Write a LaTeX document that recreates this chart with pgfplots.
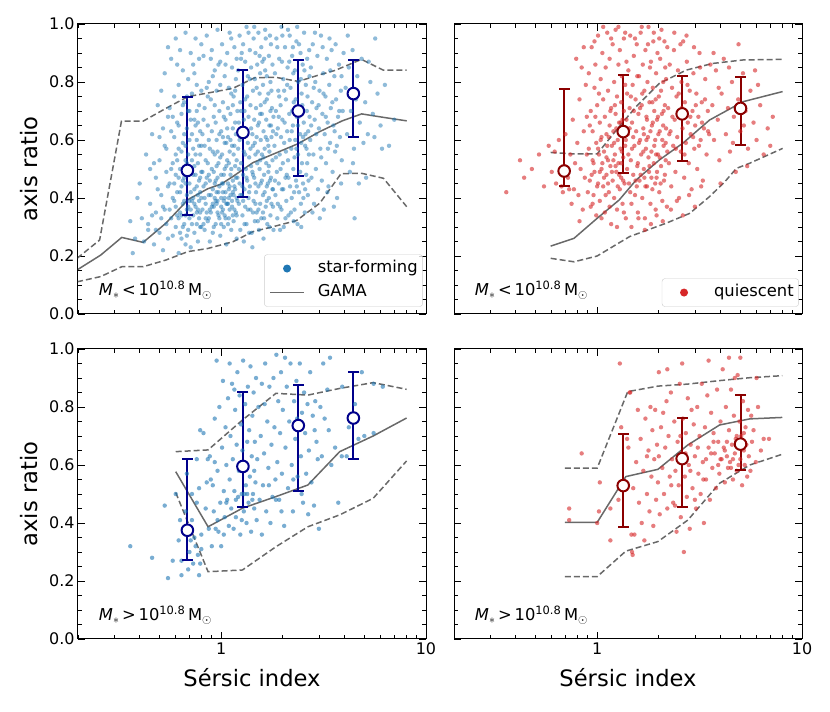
\documentclass[border=0pt]{standalone}
\usepackage{pgfplots}
\pgfplotsset{compat=1.18}
\usepackage{fontspec}
\setmainfont{DejaVu Sans}
\definecolor{tabblue}{HTML}{1F77B4}
\definecolor{tabred}{HTML}{D62728}
\definecolor{dkblue}{HTML}{00008B}
\definecolor{dkred}{HTML}{8B0000}
\definecolor{gamagray}{HTML}{696969}
\tikzset{
  mlab/.style={anchor=west, font=\fontsize{16.4}{20}\selectfont},
  gl/.style={gamagray, line width=1.5bp},
  gd/.style={gamagray, line width=1.5bp, dash pattern=on 6bp off 3bp},
  ebb/.style={dkblue, line width=2bp, mark=-, mark size=5.5bp, mark options={solid, line width=2bp, dkblue}},
  ebr/.style={dkred, line width=2bp, mark=-, mark size=5.5bp, mark options={solid, line width=2bp, dkred}},
  cb/.style={only marks, mark=*, mark size=5.8bp, mark options={fill=white, draw=dkblue, line width=2bp}},
  cr/.style={only marks, mark=*, mark size=5.8bp, mark options={fill=white, draw=dkred, line width=2bp}},
}
\pgfplotsset{
    xmin=0.2, xmax=10, ymin=0, ymax=1,
    scale only axis, width=348bp, height=290bp, anchor=south west,
    xtick={1,10}, xticklabels={1,10},
    minor xtick={0.2,0.3,0.4,0.5,0.6,0.7,0.8,0.9,2,3,4,5,6,7,8,9},
    ytick={0,0.2,0.4,0.6,0.8,1.0},
    yticklabels={0.0,0.2,0.4,0.6,0.8,1.0},
    minor ytick={0.05,0.1,0.15,0.25,0.3,0.35,0.45,0.5,0.55,0.65,0.7,0.75,0.85,0.9,0.95},
    tick align=inside, major tick length=7bp, minor tick length=4bp,
    tick style={black, line width=0.8bp},
    axis line style={black, line width=1bp},
    tick label style={font=\fontsize{16}{19}\selectfont},
    ylabel style={at={(axis description cs:-0.142,0.5)}, anchor=center, font=\fontsize{22.7}{27}\selectfont},
    xlabel style={at={(axis description cs:0.5,-0.133)}, anchor=center, font=\fontsize{22.7}{27}\selectfont},
    legend cell align=left,
    legend style={anchor=south east, at={(0.991,0.025)}, draw=black!20, rounded corners=3bp,
      fill=white, fill opacity=0.8, text opacity=1, font=\fontsize{16.4}{20}\selectfont,
      inner xsep=5bp, inner ysep=2bp, column sep=13bp, row sep=0bp,
      nodes={inner xsep=0bp, inner ysep=4bp, text height=12bp, text depth=4bp}},
}
\begin{document}
\begin{tikzpicture}
\useasboundingbox (0,0) rectangle (830bp,712bp);
% ---------------- top left
\begin{semilogxaxis}[at={(78bp,398bp)}, xticklabels={}, ylabel={axis ratio}]
\addplot[only marks, mark=*, mark size=2.2bp, color=tabblue, draw opacity=0, fill opacity=0.5,
  legend image code/.code={\path[draw=none, fill=none] (0bp,-4bp) rectangle (34bp,4bp); \fill[tabblue, fill opacity=1] (17bp,0bp) circle (4bp);}] coordinates {
(0.36,0.32)(0.38,0.26)(0.40,0.45)(0.41,0.33)(0.43,0.55)(0.44,0.29)(0.45,0.38)(0.46,0.62)(0.47,0.24)(0.48,0.47)
(0.48,0.35)(0.49,0.72)(0.50,0.28)(0.50,0.53)(0.51,0.41)(0.52,0.64)(0.52,0.22)(0.53,0.36)(0.53,0.58)(0.54,0.31)
(0.54,0.49)(0.55,0.68)(0.55,0.26)(0.44,0.31)(0.39,0.40)(0.47,0.52)(0.51,0.77)(0.42,0.25)(0.49,0.43)(0.53,0.83)
(0.46,0.34)(0.55,0.44)(0.50,0.61)(0.52,0.37)(0.37,0.21)(0.54,0.57)(0.48,0.29)(0.45,0.50)(0.51,0.33)(0.55,0.92)
(0.56,0.45)(0.56,0.71)(0.57,0.33)(0.57,0.88)(0.58,0.52)(0.58,0.27)(0.59,0.61)(0.59,0.39)(0.60,0.95)(0.60,0.48)
(0.60,0.30)(0.61,0.66)(0.61,0.42)(0.62,0.21)(0.62,0.57)(0.62,0.79)(0.63,0.35)(0.63,0.50)(0.63,0.91)(0.64,0.44)
(0.64,0.26)(0.64,0.69)(0.65,0.38)(0.65,0.59)(0.65,0.84)(0.66,0.31)(0.66,0.47)(0.66,0.73)(0.67,0.53)(0.67,0.24)
(0.67,0.97)(0.68,0.41)(0.68,0.64)(0.68,0.36)(0.69,0.81)(0.69,0.29)(0.69,0.55)(0.70,0.45)(0.70,0.70)(0.70,0.33)
(0.71,0.90)(0.71,0.50)(0.71,0.23)(0.72,0.62)(0.72,0.39)(0.72,0.76)(0.73,0.34)(0.73,0.57)(0.73,0.86)(0.74,0.43)
(0.74,0.28)(0.74,0.67)(0.75,0.48)(0.75,0.95)(0.75,0.37)(0.76,0.60)(0.76,0.31)(0.76,0.79)(0.77,0.52)(0.77,0.41)
(0.77,0.25)(0.78,0.72)(0.78,0.46)(0.78,0.88)(0.79,0.35)(0.79,0.63)(0.79,0.55)(0.80,0.40)(0.80,0.93)(0.80,0.30)
(0.57,0.63)(0.58,0.40)(0.59,0.75)(0.61,0.34)(0.62,0.47)(0.63,0.28)(0.64,0.56)(0.65,0.72)(0.66,0.39)(0.67,0.45)
(0.68,0.52)(0.69,0.37)(0.70,0.60)(0.71,0.42)(0.72,0.31)(0.73,0.48)(0.74,0.83)(0.75,0.55)(0.76,0.44)(0.77,0.66)
(0.78,0.33)(0.79,0.47)(0.80,0.58)(0.56,0.36)(0.58,0.68)(0.60,0.55)(0.61,0.86)(0.63,0.42)(0.65,0.30)(0.66,0.62)
(0.68,0.27)(0.69,0.70)(0.71,0.36)(0.72,0.53)(0.74,0.38)(0.75,0.65)(0.76,0.35)(0.78,0.58)(0.79,0.42)(0.80,0.77)
(0.57,0.50)(0.60,0.37)(0.62,0.65)(0.64,0.34)(0.67,0.58)(0.70,0.39)(0.73,0.40)(0.77,0.36)(0.79,0.30)(0.80,0.49)
(0.59,0.45)(0.62,0.33)(0.65,0.46)(0.68,0.75)(0.71,0.67)(0.74,0.51)(0.76,0.70)(0.78,0.39)(0.61,0.53)(0.67,0.34)
(0.81,0.36)(0.81,0.62)(0.82,0.89)(0.82,0.44)(0.83,0.29)(0.83,0.71)(0.84,0.53)(0.84,0.38)(0.85,0.96)(0.85,0.47)
(0.86,0.32)(0.86,0.65)(0.87,0.80)(0.87,0.41)(0.88,0.25)(0.88,0.57)(0.89,0.74)(0.89,0.35)(0.90,0.50)(0.90,0.91)
(0.91,0.43)(0.91,0.28)(0.92,0.68)(0.92,0.37)(0.93,0.84)(0.93,0.55)(0.94,0.31)(0.94,0.46)(0.95,0.77)(0.95,0.60)
(0.96,0.39)(0.96,0.98)(0.97,0.52)(0.97,0.34)(0.98,0.70)(0.98,0.44)(0.99,0.87)(0.99,0.27)(1.00,0.63)(1.00,0.40)
(1.01,0.55)(1.01,0.93)(1.02,0.36)(1.02,0.73)(1.03,0.48)(1.03,0.30)(1.04,0.82)(1.04,0.59)(1.05,0.42)(1.05,0.67)
(1.06,0.24)(1.06,0.51)(1.07,0.90)(1.07,0.38)(1.08,0.61)(1.08,0.45)(1.09,0.78)(1.09,0.33)(1.10,0.56)(1.10,0.97)
(1.11,0.41)(1.11,0.69)(1.12,0.29)(1.12,0.50)(1.13,0.85)(1.13,0.37)(1.14,0.64)(1.14,0.46)(1.15,0.75)(1.15,0.32)
(1.16,0.58)(1.16,0.92)(1.17,0.43)(1.17,0.66)(1.18,0.35)(1.18,0.81)(1.19,0.53)(1.19,0.26)(1.20,0.70)(1.20,0.47)
(0.81,0.49)(0.83,0.58)(0.84,0.33)(0.86,0.75)(0.87,0.48)(0.89,0.41)(0.90,0.63)(0.92,0.30)(0.93,0.45)(0.95,0.38)
(0.96,0.56)(0.98,0.33)(0.99,0.79)(1.01,0.35)(1.02,0.61)(1.04,0.40)(1.05,0.86)(1.07,0.53)(1.08,0.31)(1.10,0.44)
(1.11,0.60)(1.13,0.39)(1.14,0.72)(1.16,0.36)(1.17,0.51)(1.19,0.88)(0.82,0.67)(0.85,0.35)(0.88,0.46)(0.91,0.82)
(0.94,0.66)(0.97,0.42)(1.00,0.31)(1.03,0.68)(1.06,0.38)(1.09,0.52)(1.12,0.76)(1.15,0.41)(1.18,0.62)(0.84,0.45)
(0.87,0.60)(0.90,0.37)(0.93,0.72)(0.96,0.47)(0.99,0.54)(1.02,0.45)(1.05,0.33)(1.08,0.71)(1.11,0.48)(1.14,0.34)
(1.17,0.77)(1.20,0.39)(0.83,0.40)(0.86,0.52)(0.89,0.88)(0.92,0.49)(0.95,0.42)(0.98,0.62)(1.01,0.45)(1.04,0.50)
(1.07,0.64)(1.10,0.36)(1.13,0.58)(1.16,0.44)(1.19,0.40)(0.85,0.78)(0.88,0.36)(0.91,0.56)(0.94,0.39)(0.97,0.86)
(1.00,0.48)(1.03,0.39)(1.06,0.59)(1.09,0.43)(1.12,0.95)(1.15,0.55)(1.18,0.47)(0.82,0.31)(0.95,0.51)(1.08,0.38)
(0.87,0.33)(0.91,0.38)(0.96,0.35)(1.00,0.37)(1.04,0.34)(1.09,0.40)(1.14,0.42)(1.19,0.34)(0.93,0.40)(1.02,0.42)
(1.21,0.57)(1.21,0.84)(1.22,0.38)(1.22,0.66)(1.23,0.96)(1.23,0.45)(1.24,0.29)(1.24,0.73)(1.25,0.52)(1.25,0.88)
(1.26,0.41)(1.26,0.61)(1.27,0.34)(1.27,0.79)(1.28,0.48)(1.28,0.93)(1.29,0.56)(1.29,0.25)(1.30,0.70)(1.30,0.43)
(1.31,0.87)(1.31,0.37)(1.32,0.62)(1.32,0.50)(1.33,0.99)(1.33,0.31)(1.34,0.75)(1.34,0.46)(1.35,0.59)(1.35,0.82)
(1.36,0.40)(1.36,0.68)(1.37,0.28)(1.37,0.54)(1.38,0.91)(1.38,0.44)(1.39,0.72)(1.39,0.36)(1.40,0.64)(1.40,0.85)
(1.42,0.49)(1.42,0.23)(1.43,0.77)(1.43,0.58)(1.44,0.95)(1.44,0.39)(1.45,0.67)(1.45,0.47)(1.46,0.32)(1.46,0.81)
(1.47,0.55)(1.47,0.90)(1.48,0.42)(1.48,0.71)(1.49,0.61)(1.49,0.35)(1.50,0.86)(1.50,0.52)(1.52,0.44)(1.52,0.97)
(1.53,0.66)(1.53,0.29)(1.54,0.76)(1.54,0.50)(1.55,0.38)(1.55,0.83)(1.56,0.60)(1.56,0.45)(1.57,0.92)(1.57,0.33)
(1.58,0.69)(1.58,0.55)(1.60,0.41)(1.60,0.79)(1.61,0.63)(1.61,0.26)(1.62,0.88)(1.62,0.48)(1.63,0.57)(1.63,0.73)
(1.65,0.37)(1.65,0.95)(1.66,0.52)(1.66,0.67)(1.67,0.44)(1.67,0.82)(1.68,0.31)(1.68,0.60)(1.70,0.76)(1.70,0.49)
(1.71,0.89)(1.71,0.40)(1.72,0.65)(1.72,0.56)(1.74,0.34)(1.74,0.80)(1.75,0.47)(1.75,0.93)(1.76,0.61)(1.76,0.38)
(1.77,0.71)(1.78,0.53)(1.78,0.86)(1.79,0.43)(1.80,0.68)(1.80,0.29)(1.22,0.50)(1.25,0.70)(1.28,0.39)(1.31,0.55)
(1.34,0.63)(1.37,0.42)(1.40,0.51)(1.43,0.35)(1.46,0.59)(1.49,0.78)(1.52,0.36)(1.55,0.69)(1.58,0.46)(1.61,0.54)
(1.64,0.84)(1.67,0.39)(1.70,0.58)(1.73,0.46)(1.76,0.77)(1.79,0.63)(1.23,0.60)(1.27,0.44)(1.31,0.74)(1.35,0.36)
(1.39,0.57)(1.43,0.48)(1.47,0.38)(1.51,0.65)(1.55,0.53)(1.59,0.87)(1.63,0.42)(1.67,0.74)(1.71,0.51)(1.75,0.65)
(1.79,0.37)(1.24,0.41)(1.29,0.67)(1.33,0.47)(1.38,0.81)(1.42,0.62)(1.47,0.45)(1.51,0.56)(1.56,0.72)(1.60,0.35)
(1.65,0.61)(1.69,0.45)(1.74,0.70)(1.78,0.43)(1.26,0.90)(1.36,0.97)(1.45,0.99)(1.54,0.89)(1.64,0.98)(1.73,0.96)
(1.30,0.31)(1.41,0.28)(1.51,0.32)(1.62,0.33)(1.72,0.30)
(1.82,0.58)(1.83,0.83)(1.84,0.41)(1.85,0.70)(1.86,0.95)(1.87,0.49)(1.88,0.33)(1.89,0.64)(1.90,0.77)(1.91,0.45)
(1.92,0.88)(1.93,0.55)(1.94,0.37)(1.95,0.72)(1.96,0.61)(1.97,0.99)(1.98,0.43)(1.99,0.67)(2.00,0.52)(2.01,0.81)
(2.02,0.30)(2.03,0.59)(2.05,0.92)(2.06,0.47)(2.07,0.74)(2.08,0.39)(2.10,0.63)(2.11,0.85)(2.12,0.53)(2.13,0.34)
(2.15,0.69)(2.16,0.96)(2.17,0.44)(2.18,0.78)(2.20,0.57)(2.21,0.40)(2.22,0.89)(2.24,0.65)(2.25,0.50)(2.26,0.73)
(2.28,0.36)(2.29,0.84)(2.30,0.60)(2.32,0.46)(2.33,0.94)(2.34,0.68)(2.36,0.31)(2.37,0.55)(2.38,0.80)(2.40,0.42)
(2.41,0.71)(2.43,0.62)(2.44,0.90)(2.45,0.38)(2.47,0.76)(2.48,0.52)(2.50,0.86)(2.51,0.45)(2.53,0.66)(2.54,0.97)
(2.56,0.35)(2.57,0.58)(2.59,0.79)(2.60,0.48)(2.62,0.70)(2.63,0.88)(2.65,0.41)(2.66,0.63)(2.68,0.55)(2.70,0.82)
(1.83,0.46)(1.86,0.62)(1.89,0.38)(1.92,0.75)(1.95,0.50)(1.98,0.87)(2.01,0.43)(2.04,0.66)(2.07,0.56)(2.10,0.79)
(2.13,0.47)(2.16,0.60)(2.19,0.35)(2.22,0.70)(2.25,0.83)(2.28,0.54)(2.31,0.74)(2.34,0.44)(2.37,0.65)(2.40,0.93)
(2.43,0.49)(2.46,0.59)(2.49,0.72)(2.52,0.40)(2.55,0.84)(2.58,0.62)(2.61,0.57)(2.64,0.75)(2.67,0.46)(2.70,0.68)
(1.85,0.54)(1.91,0.68)(1.97,0.36)(2.03,0.77)(2.09,0.48)(2.15,0.87)(2.21,0.63)(2.27,0.42)(2.33,0.57)(2.39,0.68)
(2.45,0.81)(2.51,0.61)(2.57,0.43)(2.63,0.52)(2.69,0.91)(1.88,0.92)(1.99,0.96)(2.12,0.98)(2.24,0.92)(2.35,0.99)
(1.94,0.29)(2.06,0.33)(2.26,0.32)(2.46,0.30)
(2.72,0.60)(2.74,0.85)(2.76,0.47)(2.78,0.73)(2.80,0.93)(2.82,0.55)(2.84,0.38)(2.86,0.67)(2.88,0.80)(2.90,0.50)
(2.92,0.71)(2.95,0.89)(2.97,0.43)(3.00,0.64)(3.02,0.77)(3.05,0.57)(3.07,0.96)(3.10,0.46)(3.12,0.69)(3.15,0.83)
(3.17,0.36)(3.20,0.62)(3.23,0.75)(3.25,0.52)(3.28,0.88)(3.31,0.66)(3.34,0.44)(3.37,0.79)(3.40,0.59)(3.43,0.71)
(3.46,0.91)(3.50,0.49)(3.53,0.65)(3.57,0.82)(3.60,0.56)(3.64,0.74)(3.68,0.40)(3.72,0.68)(3.76,0.86)(3.80,0.61)
(3.84,0.77)(3.88,0.53)(3.92,0.70)(3.96,0.90)(2.75,0.65)(2.83,0.78)(2.91,0.62)(2.99,0.72)(3.08,0.54)(3.16,0.76)
(3.24,0.68)(3.32,0.57)(3.41,0.84)(3.49,0.73)(3.58,0.63)(3.67,0.58)(3.77,0.70)(3.87,0.82)(2.79,0.35)(3.03,0.33)
(3.30,0.42)(3.55,0.37)(3.85,0.45)(2.87,0.97)(3.13,0.92)(3.38,0.95)(3.62,0.93)
(4.05,0.78)(4.12,0.62)(4.20,0.85)(4.30,0.70)(4.38,0.91)(4.45,0.57)(4.55,0.74)(4.62,0.82)(4.75,0.66)(4.85,0.88)
(4.95,0.59)(5.05,0.73)(5.20,0.62)(5.35,0.80)(5.50,0.69)(5.65,0.95)(5.80,0.76)(6.00,0.65)(6.30,0.79)(6.60,0.58)
(7.00,0.67)(4.25,0.49)(4.48,0.33)(4.70,0.45)(5.10,0.47)(5.60,0.61)(6.10,0.57)(4.15,0.96)(4.40,0.52)(5.25,0.87)
};
\addlegendentry{star-forming}
\addplot[gl, mark=none, legend image code/.code={\draw[gamagray, line width=1.5bp] (0bp,0bp) -- (34bp,0bp);}] coordinates {(0.198,0.152)(0.258,0.203)(0.327,0.264)(0.416,0.247)(0.537,0.313)(0.69,0.395)(0.861,0.432)(1.0,0.448)(1.14,0.474)(1.43,0.522)(1.82,0.553)(2.37,0.587)(3.03,0.629)(3.9,0.666)(4.85,0.690)(6.2,0.678)(8.05,0.666)};
\addlegendentry{GAMA}
\addplot[gd, mark=none, forget plot] coordinates {(0.198,0.192)(0.255,0.255)(0.326,0.665)(0.416,0.665)(0.537,0.709)(0.69,0.750)(0.861,0.762)(1.14,0.778)(1.46,0.815)(1.85,0.816)(2.38,0.802)(3.03,0.825)(3.6,0.840)(4.84,0.878)(6.18,0.841)(8.05,0.841)};
\addplot[gd, mark=none, forget plot] coordinates {(0.198,0.111)(0.258,0.129)(0.327,0.163)(0.416,0.163)(0.537,0.186)(0.687,0.215)(0.861,0.226)(1.14,0.249)(1.43,0.284)(1.79,0.301)(2.33,0.322)(3.03,0.382)(3.85,0.484)(4.86,0.485)(6.2,0.468)(8.05,0.370)};
\addplot[ebb, forget plot] coordinates {(0.684,0.343)(0.684,0.749)};
\addplot[ebb, forget plot] coordinates {(1.277,0.403)(1.277,0.841)};
\addplot[ebb, forget plot] coordinates {(2.38,0.477)(2.38,0.875)};
\addplot[ebb, forget plot] coordinates {(4.42,0.611)(4.42,0.875)};
\addplot[cb, forget plot] coordinates {(0.684,0.495)(1.277,0.626)(2.38,0.700)(4.42,0.760)};
\node[mlab] at (axis description cs:0.05,0.083) {\textit{M}$_\ast$\,<\,10\textsuperscript{10.8}\,M$_\odot$};
\end{semilogxaxis}
% ---------------- top right
\begin{semilogxaxis}[at={(454bp,398bp)}, xticklabels={}, yticklabels={}]
\addplot[only marks, mark=*, mark size=2.2bp, color=tabred, draw opacity=0, fill opacity=0.6,
  legend image code/.code={\path[draw=none, fill=none] (0bp,-4bp) rectangle (34bp,4bp); \fill[tabred, fill opacity=1] (17bp,0bp) circle (4bp);}] coordinates {
(0.36,0.42)(0.42,0.53)(0.44,0.47)(0.48,0.50)(0.52,0.55)(0.55,0.44)(0.58,0.58)(0.60,0.49)(0.62,0.56)(0.63,0.45)
(0.65,0.60)(0.67,0.44)(0.69,0.51)(0.70,0.62)(0.72,0.47)(0.74,0.55)(0.75,0.38)(0.76,0.67)(0.77,0.43)(0.78,0.52)
(0.79,0.88)(0.80,0.59)(0.81,0.41)(0.82,0.74)(0.83,0.50)(0.84,0.85)(0.85,0.36)(0.86,0.63)(0.87,0.47)(0.88,0.79)
(0.89,0.55)(0.90,0.42)(0.82,0.32)(0.86,0.92)(0.89,0.68)(0.68,0.42)(0.73,0.43)
(0.91,0.57)(0.91,0.83)(0.92,0.46)(0.93,0.70)(0.93,0.37)(0.94,0.92)(0.95,0.53)(0.95,0.63)(0.96,0.41)(0.97,0.78)
(0.97,0.49)(0.98,0.86)(0.99,0.59)(0.99,0.34)(1.00,0.72)(1.01,0.45)(1.01,0.96)(1.02,0.55)(1.03,0.66)(1.03,0.39)
(1.04,0.81)(1.05,0.50)(1.05,0.61)(1.06,0.90)(1.07,0.44)(1.07,0.74)(1.08,0.56)(1.09,0.35)(1.09,0.68)(1.10,0.85)
(1.11,0.48)(1.11,0.62)(1.12,0.97)(1.13,0.53)(1.13,0.77)(1.14,0.42)(1.15,0.65)(1.15,0.88)(1.16,0.51)(1.17,0.31)
(1.17,0.71)(1.18,0.58)(1.19,0.93)(1.19,0.46)(1.20,0.63)(1.21,0.80)(1.21,0.40)(1.22,0.55)(1.23,0.69)(1.23,0.98)
(1.24,0.49)(1.25,0.75)(1.25,0.36)(1.26,0.60)(1.27,0.86)(1.27,0.52)(1.28,0.66)(1.29,0.43)(1.29,0.91)(1.30,0.57)
(1.31,0.73)(1.31,0.47)(1.32,0.82)(1.33,0.38)(1.33,0.62)(1.34,0.54)(1.35,0.95)(1.35,0.70)(1.36,0.45)(1.37,0.79)
(1.37,0.58)(1.38,0.33)(1.39,0.67)(1.39,0.87)(1.40,0.50)(0.92,0.65)(0.96,0.52)(1.00,0.44)(1.04,0.60)(1.08,0.47)
(1.12,0.58)(1.16,0.70)(1.20,0.53)(1.24,0.64)(1.28,0.48)(1.32,0.56)(1.36,0.64)(1.40,0.76)(0.94,0.48)(0.98,0.68)
(1.02,0.76)(1.06,0.52)(1.10,0.41)(1.14,0.61)(1.18,0.49)(1.22,0.72)(1.26,0.44)(1.30,0.66)(1.34,0.46)(1.38,0.60)
(0.95,0.38)(1.05,0.33)(1.15,0.37)(1.25,0.30)(1.35,0.35)(0.97,0.94)(1.07,0.99)(1.17,0.95)(1.27,0.99)(1.37,0.97)
(1.01,0.57)(1.11,0.54)(1.21,0.59)(1.31,0.52)(1.03,0.49)(1.13,0.45)(1.23,0.51)(1.33,0.67)
(1.41,0.62)(1.42,0.84)(1.43,0.45)(1.44,0.71)(1.45,0.96)(1.46,0.53)(1.47,0.38)(1.48,0.66)(1.49,0.79)(1.50,0.48)
(1.51,0.89)(1.52,0.58)(1.53,0.41)(1.54,0.74)(1.55,0.63)(1.56,0.93)(1.57,0.51)(1.58,0.35)(1.59,0.69)(1.60,0.82)
(1.61,0.46)(1.62,0.60)(1.63,0.97)(1.64,0.55)(1.65,0.72)(1.66,0.40)(1.67,0.86)(1.68,0.64)(1.69,0.50)(1.70,0.77)
(1.71,0.33)(1.72,0.91)(1.73,0.57)(1.74,0.68)(1.75,0.44)(1.76,0.80)(1.77,0.61)(1.78,0.99)(1.79,0.49)(1.80,0.73)
(1.82,0.38)(1.83,0.87)(1.84,0.56)(1.85,0.65)(1.86,0.43)(1.87,0.78)(1.88,0.94)(1.89,0.52)(1.90,0.70)(1.92,0.60)
(1.93,0.36)(1.94,0.83)(1.95,0.47)(1.96,0.67)(1.97,0.90)(1.98,0.55)(2.00,0.75)(2.01,0.42)(2.02,0.63)(2.03,0.88)
(2.05,0.51)(2.06,0.98)(2.07,0.69)(2.08,0.39)(2.10,0.80)(2.11,0.58)(2.12,0.46)(2.14,0.72)(2.15,0.85)(2.16,0.53)
(2.17,0.64)(2.19,0.37)(2.20,0.92)(1.42,0.55)(1.45,0.42)(1.48,0.57)(1.51,0.70)(1.54,0.46)(1.57,0.82)(1.60,0.59)
(1.63,0.48)(1.66,0.76)(1.69,0.62)(1.72,0.44)(1.75,0.67)(1.78,0.54)(1.81,0.85)(1.84,0.47)(1.87,0.66)(1.90,0.58)
(1.93,0.74)(1.96,0.49)(1.99,0.62)(2.02,0.54)(2.05,0.77)(2.08,0.60)(2.11,0.70)(2.14,0.48)(2.17,0.81)(2.20,0.56)
(1.44,0.64)(1.50,0.61)(1.56,0.44)(1.62,0.71)(1.68,0.56)(1.74,0.60)(1.80,0.51)(1.86,0.73)(1.92,0.45)(1.98,0.68)
(2.04,0.45)(2.10,0.65)(2.16,0.59)(1.47,0.30)(1.59,0.33)(1.71,0.29)(1.83,0.31)(1.95,0.34)(2.09,0.32)(1.53,0.95)
(1.65,0.99)(1.77,0.93)(1.89,0.97)(2.01,0.95)(2.13,0.94)(1.46,0.75)(1.58,0.52)(1.70,0.47)(1.82,0.63)(1.94,0.55)
(2.22,0.71)(2.24,0.52)(2.26,0.86)(2.28,0.63)(2.30,0.44)(2.32,0.78)(2.35,0.58)(2.37,0.91)(2.39,0.67)(2.41,0.49)
(2.44,0.75)(2.46,0.61)(2.48,0.84)(2.51,0.40)(2.53,0.69)(2.56,0.56)(2.58,0.80)(2.61,0.64)(2.63,0.94)(2.66,0.47)
(2.68,0.73)(2.71,0.59)(2.74,0.87)(2.77,0.66)(2.80,0.52)(2.83,0.77)(2.86,0.62)(2.89,0.43)(2.92,0.70)(2.95,0.83)
(2.98,0.57)(3.01,0.65)(3.05,0.76)(3.08,0.50)(3.12,0.68)(3.16,0.90)(3.20,0.60)(3.24,0.73)(3.28,0.46)(3.32,0.64)
(3.37,0.81)(3.42,0.55)(3.47,0.70)(3.52,0.62)(3.57,0.86)(2.25,0.62)(2.33,0.68)(2.42,0.57)(2.50,0.76)(2.59,0.71)
(2.67,0.55)(2.76,0.79)(2.85,0.68)(2.94,0.61)(3.03,0.72)(3.14,0.58)(3.25,0.66)(3.36,0.74)(3.48,0.63)(2.29,0.36)
(2.45,0.39)(2.62,0.34)(2.81,0.41)(3.00,0.37)(3.22,0.44)(2.38,0.97)(2.55,0.93)(2.73,0.96)(2.97,0.92)(3.18,0.85)
(3.65,0.72)(3.72,0.60)(3.80,0.84)(3.88,0.67)(3.95,0.53)(4.05,0.76)(4.15,0.88)(4.25,0.62)(4.35,0.71)(4.45,0.56)
(4.55,0.80)(4.65,0.68)(4.75,0.49)(4.88,0.74)(5.00,0.63)(5.15,0.83)(5.30,0.70)(5.45,0.57)(5.60,0.77)(5.80,0.66)
(6.00,0.60)(6.25,0.72)(6.50,0.55)(6.80,0.64)(7.20,0.68)(3.70,0.90)(4.00,0.45)(4.40,0.85)(4.90,0.93)(5.40,0.51)
(6.10,0.79)(3.92,0.78)(4.60,0.59)(5.20,0.65)(5.90,0.84)(7.00,0.58)
};
\addlegendentry{quiescent}
\addplot[gl, mark=none, forget plot] coordinates {(0.593,0.234)(0.771,0.261)(1.0,0.330)(1.28,0.393)(1.55,0.462)(2.01,0.531)(2.62,0.589)(3.54,0.669)(5.15,0.732)(8.04,0.767)};
\addplot[gd, mark=none, forget plot] coordinates {(0.593,0.557)(0.771,0.552)(1.0,0.552)(1.28,0.646)(1.55,0.715)(2.01,0.795)(2.72,0.841)(3.67,0.864)(5.15,0.876)(8.04,0.878)};
\addplot[gd, mark=none, forget plot] coordinates {(0.593,0.192)(0.771,0.180)(1.0,0.200)(1.44,0.267)(2.17,0.313)(2.83,0.347)(3.54,0.405)(4.2,0.456)(4.78,0.502)(5.56,0.520)(8.04,0.571)};
\addplot[ebr, forget plot] coordinates {(0.69,0.443)(0.69,0.776)};
\addplot[ebr, forget plot] coordinates {(1.34,0.485)(1.34,0.824)};
\addplot[ebr, forget plot] coordinates {(2.60,0.526)(2.60,0.821)};
\addplot[ebr, forget plot] coordinates {(5.01,0.583)(5.01,0.818)};
\addplot[cr, forget plot] coordinates {(0.69,0.493)(1.34,0.629)(2.60,0.690)(5.01,0.709)};
\node[mlab] at (axis description cs:0.05,0.083) {\textit{M}$_\ast$\,<\,10\textsuperscript{10.8}\,M$_\odot$};
\end{semilogxaxis}
% ---------------- bottom left
\begin{semilogxaxis}[at={(78bp,73bp)}, ylabel={axis ratio}, xlabel={Sérsic index}]
\addplot[only marks, mark=*, mark size=2.2bp, color=tabblue, draw opacity=0, fill opacity=0.6, forget plot] coordinates {
(0.36,0.32)(0.46,0.28)(0.53,0.46)(0.55,0.21)(0.58,0.27)(0.60,0.50)(0.62,0.34)(0.64,0.22)(0.64,0.27)(0.66,0.38)
(0.68,0.57)(0.69,0.24)(0.70,0.30)(0.72,0.41)(0.73,0.26)(0.74,0.35)(0.75,0.32)(0.76,0.47)(0.77,0.29)(0.78,0.22)
(0.78,0.52)(0.79,0.72)(0.80,0.36)(0.80,0.31)(0.72,0.50)(0.67,0.44)(0.76,0.62)(0.79,0.26)(0.71,0.34)(0.63,0.41)
(0.82,0.71)(0.84,0.45)(0.86,0.62)(0.87,0.38)(0.88,0.63)(0.89,0.55)(0.90,0.32)(0.91,0.53)(0.92,0.44)(0.93,0.76)
(0.94,0.38)(0.95,0.96)(0.96,0.58)(0.97,0.37)(0.98,0.80)(0.99,0.47)(1.00,0.32)(1.01,0.66)(1.02,0.89)(1.03,0.51)
(1.04,0.42)(1.05,0.73)(1.06,0.60)(1.07,0.48)(1.08,0.83)(1.09,0.39)(1.10,0.55)(1.11,0.70)(1.12,0.45)(1.13,0.88)
(1.14,0.62)(1.15,0.38)(1.16,0.51)(1.17,0.79)(1.18,0.42)(1.19,0.67)(1.20,0.92)(1.21,0.49)(1.22,0.58)(1.23,0.84)
(1.24,0.36)(1.25,0.74)(1.26,0.50)(1.27,0.65)(1.28,0.96)(1.29,0.44)(1.30,0.60)(1.31,0.81)(1.32,0.53)(1.33,0.40)
(1.34,0.68)(1.35,0.87)(1.36,0.47)(1.37,0.72)(1.38,0.56)(1.39,0.94)(1.40,0.37)(1.41,0.63)(1.42,0.77)(1.43,0.50)
(1.44,0.85)(1.45,0.45)(1.46,0.68)(1.47,0.54)(1.48,0.90)(1.49,0.41)(1.50,0.62)(0.85,0.54)(0.93,0.61)(1.03,0.36)
(1.10,0.95)(1.18,0.48)(1.26,0.41)(1.34,0.50)(1.42,0.48)(0.96,0.41)(1.06,0.47)(1.16,0.86)(1.30,0.50)(1.45,0.58)
(1.52,0.80)(1.54,0.48)(1.56,0.70)(1.58,0.88)(1.60,0.53)(1.62,0.64)(1.64,0.95)(1.66,0.44)(1.68,0.75)(1.70,0.59)
(1.72,0.87)(1.74,0.40)(1.76,0.67)(1.78,0.49)(1.80,0.90)(1.82,0.73)(1.84,0.55)(1.86,0.98)(1.88,0.61)(1.90,0.82)
(1.92,0.48)(1.94,0.71)(1.96,0.92)(1.98,0.57)(2.00,0.79)(2.03,0.39)(2.06,0.66)(2.09,0.87)(2.12,0.52)(2.15,0.75)
(2.18,0.95)(2.21,0.60)(2.24,0.44)(2.27,0.82)(2.30,0.69)(2.33,0.89)(2.36,0.56)(2.39,0.74)(2.42,0.95)(2.45,0.63)
(2.48,0.78)(2.51,0.47)(2.54,0.85)(2.57,0.71)(2.60,0.57)(2.64,0.81)(2.68,0.65)(2.72,0.92)(2.76,0.54)(2.80,0.77)
(2.84,0.46)(2.88,0.82)(2.92,0.68)(2.96,0.62)(3.00,0.38)(3.05,0.80)(3.10,0.63)(3.15,0.95)(3.20,0.76)(1.63,0.81)
(1.85,0.48)(2.05,0.97)(2.25,0.55)(2.47,0.50)(2.66,0.43)(2.86,0.72)(1.71,0.53)(1.97,0.44)(2.35,0.76)(1.58,0.36)
(3.30,0.86)(3.45,0.60)(3.60,0.66)(3.73,0.47)(3.90,0.87)(4.10,0.63)(4.30,0.76)(4.50,0.81)(4.86,0.92)(5.00,0.70)
(5.55,0.88)(5.55,0.71)(6.15,0.87)(3.40,0.97)(4.20,0.73)(3.35,0.72)(3.88,0.63)(4.68,0.69)
};
\addplot[gl, mark=none, forget plot] coordinates {(0.60,0.577)(0.863,0.387)(1.27,0.451)(1.85,0.491)(2.65,0.531)(3.79,0.646)(5.52,0.700)(8.04,0.762)};
\addplot[gd, mark=none, forget plot] coordinates {(0.60,0.646)(0.863,0.652)(1.27,0.755)(1.85,0.847)(2.65,0.841)(3.79,0.864)(5.52,0.884)(8.04,0.861)};
\addplot[gd, mark=none, forget plot] coordinates {(0.60,0.505)(0.863,0.232)(1.27,0.238)(1.85,0.318)(2.65,0.387)(3.79,0.428)(5.52,0.485)(8.04,0.614)};
\addplot[ebb, forget plot] coordinates {(0.684,0.274)(0.684,0.620)};
\addplot[ebb, forget plot] coordinates {(1.277,0.456)(1.277,0.852)};
\addplot[ebb, forget plot] coordinates {(2.38,0.511)(2.38,0.877)};
\addplot[ebb, forget plot] coordinates {(4.42,0.622)(4.42,0.922)};
\addplot[cb, forget plot] coordinates {(0.684,0.375)(1.277,0.595)(2.38,0.736)(4.42,0.762)};
\node[mlab] at (axis description cs:0.05,0.083) {\textit{M}$_\ast$\,>\,10\textsuperscript{10.8}\,M$_\odot$};
\end{semilogxaxis}
% ---------------- bottom right
\begin{semilogxaxis}[at={(454bp,73bp)}, yticklabels={}, xlabel={Sérsic index}]
\addplot[only marks, mark=*, mark size=2.2bp, color=tabred, draw opacity=0, fill opacity=0.6, forget plot] coordinates {
(0.73,0.45)(0.73,0.41)(0.84,0.64)(1.00,0.40)(1.02,0.44)(1.03,0.54)(1.16,0.45)(1.16,0.34)(1.27,0.48)(1.31,0.73)
(1.29,0.95)(1.40,0.69)(1.47,0.36)(1.49,0.29)(1.44,0.85)
(1.42,0.66)(1.45,0.85)(1.48,0.30)(1.50,0.52)(1.52,0.36)(1.55,0.61)(1.58,0.79)(1.60,0.47)(1.63,0.69)(1.65,0.40)
(1.68,0.58)(1.70,0.34)(1.72,0.76)(1.75,0.50)(1.78,0.65)(1.80,0.44)(1.82,0.80)(1.84,0.56)(1.86,0.72)(1.88,0.39)
(1.90,0.62)(1.92,0.79)(1.94,0.48)(1.96,0.67)(1.98,0.54)(2.00,0.92)(2.02,0.43)(2.05,0.73)(2.08,0.59)(2.10,0.78)
(2.12,0.50)(2.15,0.66)(2.18,0.82)(2.20,0.45)(2.23,0.70)(2.26,0.56)(2.29,0.85)(2.32,0.62)(2.35,0.47)(2.38,0.75)
(2.41,0.58)(2.44,0.37)(2.47,0.68)(2.50,0.53)(2.53,0.88)(2.56,0.42)(2.59,0.64)(2.62,0.76)(2.65,0.30)(2.68,0.56)
(2.71,0.71)(2.74,0.49)(2.77,0.83)(2.80,0.60)(2.83,0.38)(2.86,0.67)(2.89,0.79)(2.92,0.52)(2.96,0.74)(3.00,0.63)
(3.04,0.45)(3.08,0.80)(3.12,0.57)(3.16,0.70)(3.20,0.50)(3.24,0.88)(3.28,0.61)(3.32,0.40)(3.36,0.73)(3.40,0.55)
(3.45,0.84)(3.50,0.66)(3.55,0.48)(3.60,0.78)(3.65,0.59)(3.70,0.71)(3.75,0.64)(3.80,0.52)(3.85,0.86)(3.90,0.68)
(3.95,0.57)(4.00,0.75)(4.05,0.62)(4.10,0.93)(4.15,0.66)(4.20,0.54)(4.25,0.80)(4.30,0.63)(4.35,0.59)(4.40,0.72)
(4.45,0.61)(4.50,0.86)(4.55,0.67)(4.60,0.55)(4.65,0.77)(4.70,0.64)(4.75,0.69)(4.80,0.58)(4.85,0.91)(4.90,0.66)
(4.95,0.75)(5.00,0.62)(5.05,0.70)(5.10,0.53)(5.15,0.82)(5.20,0.65)(5.25,0.60)(5.30,0.73)(5.35,0.67)(5.40,0.56)
(5.45,0.79)(5.50,0.63)(1.75,0.63)(2.00,0.63)(2.30,0.53)(2.55,0.70)(2.85,0.58)(3.10,0.66)(3.40,0.62)(3.70,0.68)
(4.00,0.62)(4.30,0.68)(4.60,0.62)(4.90,0.60)(5.20,0.71)(2.40,0.46)(2.70,0.64)(3.00,0.48)(3.30,0.55)(3.60,0.64)
(3.90,0.60)(4.20,0.65)(4.50,0.59)(4.80,0.70)(2.20,0.93)(2.60,0.95)(3.50,0.96)(4.40,0.97)(5.00,0.97)(4.70,0.90)
(5.70,0.68)(5.80,0.72)(5.95,0.61)(6.10,0.80)(6.30,0.65)(6.50,0.69)(6.90,0.69)(5.60,0.58)(6.00,0.90)(5.65,0.77)
};
\addplot[gl, mark=none, forget plot] coordinates {(0.695,0.402)(1.0,0.402)(1.38,0.560)(1.98,0.585)(2.77,0.669)(3.96,0.738)(5.56,0.759)(8.01,0.764)};
\addplot[gd, mark=none, forget plot] coordinates {(0.695,0.589)(1.0,0.589)(1.41,0.853)(1.98,0.872)(2.77,0.879)(3.96,0.891)(5.56,0.901)(8.01,0.908)};
\addplot[gd, mark=none, forget plot] coordinates {(0.695,0.215)(1.0,0.215)(1.38,0.303)(1.98,0.336)(2.77,0.410)(3.96,0.537)(5.56,0.600)(8.01,0.637)};
\addplot[ebr, forget plot] coordinates {(1.34,0.385)(1.34,0.707)};
\addplot[ebr, forget plot] coordinates {(2.60,0.454)(2.60,0.761)};
\addplot[ebr, forget plot] coordinates {(5.01,0.584)(5.01,0.841)};
\addplot[cr, forget plot] coordinates {(1.34,0.529)(2.60,0.622)(5.01,0.672)};
\node[mlab] at (axis description cs:0.05,0.083) {\textit{M}$_\ast$\,>\,10\textsuperscript{10.8}\,M$_\odot$};
\end{semilogxaxis}
\end{tikzpicture}
\end{document}
